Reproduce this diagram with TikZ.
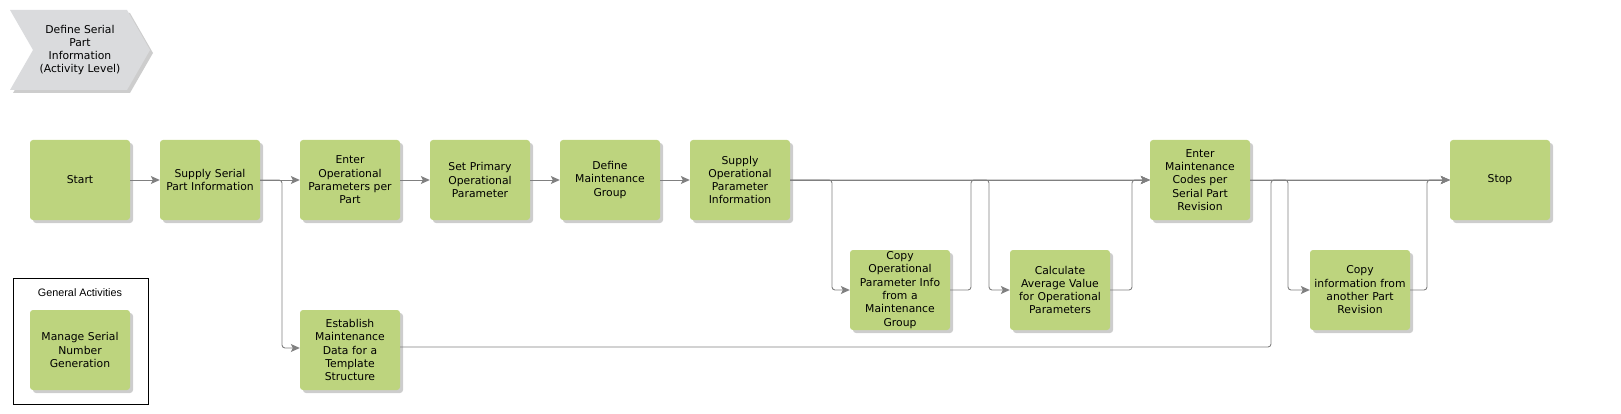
\documentclass[tikz,border=0pt]{standalone}
\usepackage{fontspec}
\setmainfont{DejaVu Sans}
\newfontfamily\arialf{Liberation Sans}
\usetikzlibrary{arrows.meta,shadows}
\definecolor{boxgreen}{RGB}{189,212,126}
\definecolor{linegray}{RGB}{128,128,128}
\definecolor{chevgray}{RGB}{218,219,221}
\definecolor{shadowgray}{RGB}{200,200,200}
\tikzset{
  act/.style={fill=boxgreen, rounded corners=3pt, minimum width=100pt, minimum height=80pt,
    text width=98pt, align=center, inner sep=0pt,
    font=\fontsize{10.8}{13.3}\selectfont,
    drop shadow={shadow xshift=3pt, shadow yshift=-3pt, fill=shadowgray, opacity=0.9}},
  conn/.style={draw=linegray, line width=0.9pt, rounded corners=3pt,
    -{Stealth[length=9pt,width=8pt,inset=2pt,fill=linegray]}}
}
\begin{document}
\begin{tikzpicture}[x=1pt,y=-1pt]
\useasboundingbox (0,0) rectangle (1621,414);
% chevron
\fill[shadowgray, opacity=0.9] (13,13) -- (130,13) -- (153,53) -- (130,93) -- (13,93) -- (36,53) -- cycle;
\fill[chevgray] (10,10) -- (127,10) -- (150,50) -- (127,90) -- (10,90) -- (33,50) -- cycle;
\node[align=center, font=\fontsize{10.8}{13.3}\selectfont] (title) at (80,50) {Define Serial\\Part\\Information\\(Activity Level)};
% general activities
\draw[black, line width=1pt] (13,278) rectangle (148,404);
\node[font=\arialf\fontsize{10.8}{13}\selectfont] (gen) at (80,293) {General Activities};
\node[act] (msn) at (80,350) {Manage Serial\\Number\\Generation};
% activities
\node[act] (start) at (80,180) {Start};
\node[act] (ssp) at (210,180) {Supply Serial\\Part Information};
\node[act] (eop) at (350,180) {Enter\\Operational\\Parameters per\\Part};
\node[act] (spop) at (480,180) {Set Primary\\Operational\\Parameter};
\node[act] (dmg) at (610,180) {Define\\Maintenance\\Group};
\node[act] (sopi) at (740,180) {Supply\\Operational\\Parameter\\Information};
\node[act] (copi) at (900,290) {Copy\\Operational\\Parameter Info\\from a\\Maintenance\\Group};
\node[act] (cavg) at (1060,290) {Calculate\\Average Value\\for Operational\\Parameters};
\node[act] (emc) at (1200,180) {Enter\\Maintenance\\Codes per\\Serial Part\\Revision};
\node[act] (cinf) at (1360,290) {Copy\\information from\\another Part\\Revision};
\node[act] (stop) at (1500,180) {Stop};
\node[act] (est) at (350,350) {Establish\\Maintenance\\Data for a\\Template\\Structure};
% connectors
\draw[conn] (start.east) -- (ssp.west);
\draw[conn] (ssp.east) -- (eop.west);
\draw[conn] (ssp.east) -- (282,180) -- (282,348) -- (est.west |- 0,348);
\draw[conn] (eop.east) -- (spop.west);
\draw[conn] (spop.east) -- (dmg.west);
\draw[conn] (dmg.east) -- (sopi.west);
\draw[conn] (sopi.east) -- (emc.west);
\draw[conn] (sopi.east) -- (832,180) -- (832,290) -- (copi.west);
\draw[conn] (copi.east) -- (971,290) -- (971,180) -- (emc.west);
\draw[conn] (sopi.east) -- (989,180) -- (989,290) -- (cavg.west);
\draw[conn] (cavg.east) -- (1132,290) -- (1132,180) -- (emc.west);
\draw[conn] (emc.east) -- (stop.west);
\draw[conn] (emc.east) -- (1288,180) -- (1288,290) -- (cinf.west);
\draw[conn] (cinf.east) -- (1427,290) -- (1427,180) -- (stop.west);
\draw[conn] (est.east |- 0,347) -- (1271,347) -- (1271,180) -- (stop.west);
\end{tikzpicture}
\end{document}
